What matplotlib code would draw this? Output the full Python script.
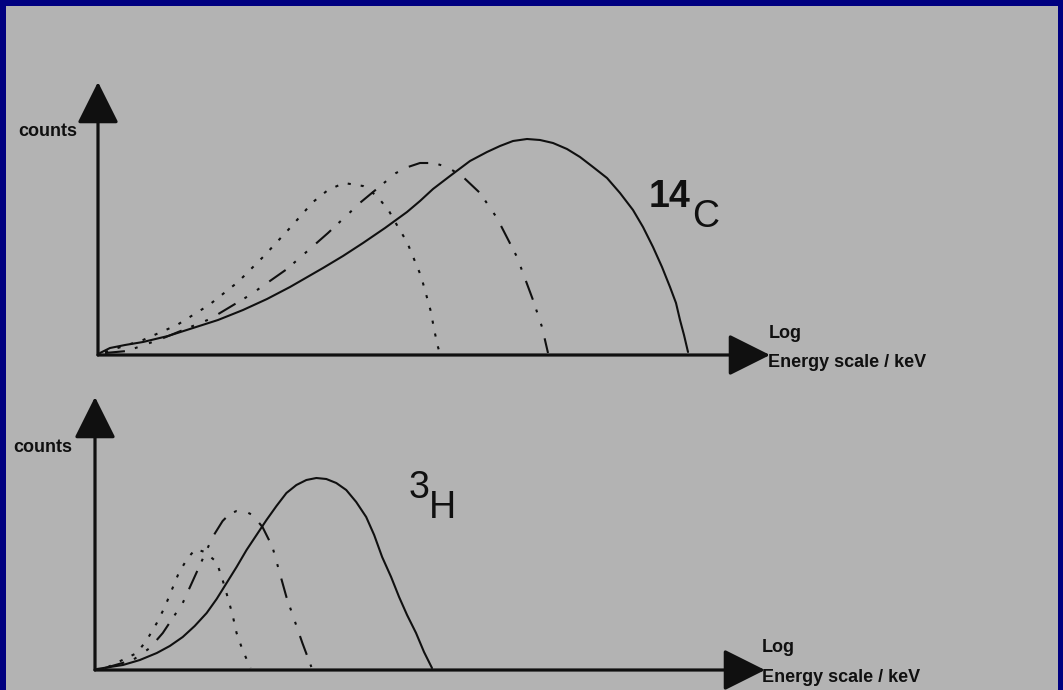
import matplotlib
matplotlib.use("Agg")
import matplotlib.pyplot as plt

W, H = 1063, 690

# schematic spectra (energy in arbitrary log units, counts arbitrary)
c14_solid_e = [0.4, 2.4, 5.4, 9, 14, 19, 24, 29, 33.8, 38.4, 45, 49, 53, 57.4, 61.8, 64.4, 67, 70.4,
               74.4, 77.8, 80.4, 83, 85.8, 88.4, 91, 93.8, 96.4, 99, 101.8, 104.4, 107, 109, 111,
               112.8, 114.4, 115.6, 116.4, 117.2, 118]
c14_solid_n = [1, 3.5, 5, 6.5, 9.5, 13.5, 17.5, 22.5, 28, 34, 43.5, 49.5, 56, 63.5, 71.5, 77, 83, 89.5,
               97, 101.5, 104.5, 107, 108, 107.5, 106, 103, 99, 94, 88.5, 81, 72.5, 64, 54,
               44, 34, 26, 17.5, 10, 1.5]

c14_dash_e = [1.4, 5.8, 12.6, 22.4, 30.4, 37.8, 46, 52.6, 59.6, 62, 64.4, 67.2, 69.8, 72.8, 76.4, 79.8, 83.8, 87, 88.8, 90]
c14_dash_n = [1, 2, 8, 18, 30, 43, 61, 76.5, 91, 94, 96, 96, 94, 89.5, 81, 68.5, 49, 27.5, 14, 1]

c14_dot_e = [1.4, 9, 15.8, 22.2, 28, 33.2, 38.2, 43, 46, 49.2, 53, 55.8, 58.2, 60, 61.8, 63.2, 64.6, 65.6, 66.6, 67.2, 68, 68.4]
c14_dot_n = [1.5, 7.5, 15, 25, 36.5, 49.5, 63, 76.5, 82.5, 86, 84.5, 79.5, 72, 64, 56.5, 48, 39.5, 30.5, 21.5, 13, 4, 0.5]

h3_solid_e = [0.4, 5.6, 9, 12.4, 15, 17.6, 20, 22.4, 24.4, 26.4, 28.4, 30.4, 32.4, 34.4, 36.4, 38.4,
              40.4, 42.4, 44.4, 46.4, 48.4, 50.4, 52.4, 54.4, 56, 57.6, 59.4, 61, 62.6, 64.4, 66, 67.6]
h3_solid_n = [0.5, 2.5, 5, 8.5, 12, 16.5, 22, 28.5, 35.5, 43.5, 51.5, 60, 67.5, 75, 82, 88.5,
              92.5, 95, 96, 95.5, 93.5, 90, 84, 76.5, 67.5, 56.5, 46.5, 36.5, 27.5, 18.5, 9, 1]

h3_dash_e = [2, 7.6, 11, 13.6, 17.6, 20.6, 23.6, 25.6, 27, 28.4, 30, 31.6, 33.6, 35.6, 38.4, 41.6, 43.4]
h3_dash_n = [1, 5, 11, 18.5, 33.5, 50, 66.5, 74.5, 78, 79.5, 79.5, 77.5, 71.5, 61.5, 36.5, 13.5, 1.5]

h3_dot_e = [2.6, 8.4, 10.4, 12.4, 14, 15.4, 16.8, 18.6, 20.2, 22, 24.4, 25.6, 26.6, 27.6, 28.4, 29.6, 31.2]
h3_dot_n = [1.5, 8.5, 15, 23.5, 31.5, 40, 48.5, 56, 60.5, 59, 54, 45, 36.5, 27.5, 18.5, 10, 1]

INK = "#101010"
DOT = (0, (1.5, 4.8))
DASHDOT = (0, (9.6, 5, 1.4, 5.8, 1.4, 5.8))


def box(x0, y0, x1, y1):
    # pixel box -> figure fraction rect
    return [x0 / W, 1 - y1 / H, (x1 - x0) / W, (y1 - y0) / H]


fig = plt.figure(figsize=(W / 100, H / 100), dpi=100, facecolor="#000080")
plt.rcParams["font.family"] = ["Liberation Sans", "DejaVu Sans"]

bg = fig.add_axes(box(6, 6, 1058, 700))
bg.set_facecolor("#b3b3b3")
bg.set_xticks([])
bg.set_yticks([])
for s in bg.spines.values():
    s.set_visible(False)


def panel(rect, curves):
    ax = fig.add_axes(rect)
    ax.patch.set_alpha(0)
    ax.set_xlim(0, 134.4)
    ax.set_ylim(0, 136.5)
    ax.axis("off")
    for e, n, ls in curves:
        ax.plot(e, n, color=INK, lw=1.5, linestyle=ls, solid_capstyle="round", solid_joinstyle="round")
    arrow = dict(arrowstyle="-|>,head_length=2.6,head_width=1.3", mutation_scale=10,
                 color=INK, lw=2.3, shrinkA=0, shrinkB=0)
    ax.annotate("", xy=(1, 0), xytext=(0, 0), xycoords="axes fraction", arrowprops=arrow)
    ax.annotate("", xy=(0, 1), xytext=(0, 0), xycoords="axes fraction", arrowprops=arrow)
    return ax


top = panel(box(98, 82, 770, 355), [
    (c14_solid_e, c14_solid_n, "-"),
    (c14_dash_e, c14_dash_n, DASHDOT),
    (c14_dot_e, c14_dot_n, DOT),
])
bot = panel(box(95, 397, 765, 670), [
    (h3_solid_e, h3_solid_n, "-"),
    (h3_dash_e, h3_dash_n, DASHDOT),
    (h3_dot_e, h3_dot_n, DOT),
])

# isotope labels
top.text(110.2, 74, "14", fontsize=27, fontweight="bold", color=INK, ha="left", va="baseline")
top.text(118.8, 64, "C", fontsize=27, color=INK, ha="left", va="baseline")
bot.text(63.0, 86, "3", fontsize=27, color=INK, ha="left", va="baseline")
bot.text(67.0, 76, "H", fontsize=27, color=INK, ha="left", va="baseline")


def ftext(x, y, s, size):
    fig.text(x / W, 1 - y / H, s, fontsize=size, fontweight="bold", color=INK,
             ha="left", va="baseline")


ftext(18, 136, "counts", 13)
ftext(13, 452, "counts", 13)
ftext(769, 338, "Log", 13)
ftext(768, 367, "Energy scale / keV", 13)
ftext(762, 652, "Log", 13)
ftext(762, 682, "Energy scale / keV", 13)

fig.savefig("out.png", dpi=100, facecolor=fig.get_facecolor())
